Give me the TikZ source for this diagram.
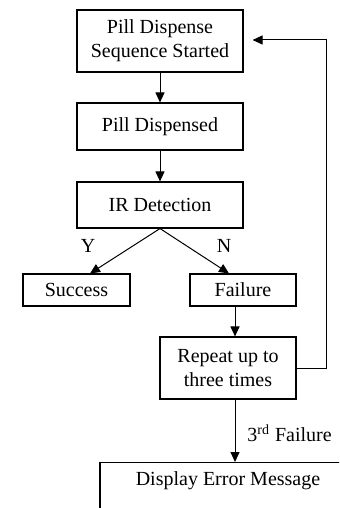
\documentclass[tikz,border=0pt]{standalone}
\usepackage{fontspec}
\setmainfont{Liberation Serif}
\usetikzlibrary{arrows.meta}
\begin{document}
\begin{tikzpicture}[x=0.5pt,y=-0.5pt,
  every node/.style={font=\fontsize{10pt}{12pt}\selectfont},
  stepbox/.style={draw, line width=0.55pt, rectangle, align=center, inner sep=0pt},
  flow/.style={draw, line width=0.5pt, -{Triangle[length=5pt,width=4.5pt]}}]
\useasboundingbox (0,0) rectangle (339,508);
\clip (0,0) rectangle (339,508);

% process boxes
\node[stepbox, minimum width=83pt, minimum height=31pt] (start) at (160,41) {Pill Dispense\\Sequence Started};
\node[stepbox, minimum width=83pt, minimum height=23.5pt] (disp) at (160,126.5) {Pill Dispensed};
\node[stepbox, minimum width=83pt, minimum height=23pt] (ir) at (160,205) {IR Detection};
\node[stepbox, minimum width=53.5pt, minimum height=16pt] (succ) at (76.5,290) {Success};
\node[stepbox, minimum width=53pt, minimum height=16pt] (fail) at (243,290) {Failure};
\node[stepbox, minimum width=68pt, minimum height=31pt] (rep) at (228,368) {Repeat up to\\three times};
\node[stepbox, minimum width=128pt, anchor=north, inner ysep=0pt,
      text height=11.5pt, text depth=30pt] (err) at (228,462) {Display Error Message};

% branch labels
\node[inner sep=0pt] (yl) at (88,246) {Y};
\node[inner sep=0pt] (nl) at (224,246) {N};

% connectors
\draw[flow] (start) -- (disp);
\draw[flow] (disp) -- (ir);
\draw[flow] (ir.south) -- ([xshift=6.75pt]succ.north);
\draw[flow] (ir.south) -- ([xshift=-7pt]fail.north);
\coordinate (fdrop) at (235,306);
\draw[flow] (fdrop) -- (fdrop |- rep.north);
\coordinate (rdrop) at (235,399);
\draw[flow] (rdrop) -- (rdrop |- err.north);
\node[anchor=west, inner sep=0pt] (third) at (247,433) {3\textsuperscript{rd} Failure};
\coordinate (loop) at (326,368);
\draw[flow] (rep.east) -- (loop) |- ([xshift=4.5pt,yshift=0.5pt]start.east);
\end{tikzpicture}
\end{document}
